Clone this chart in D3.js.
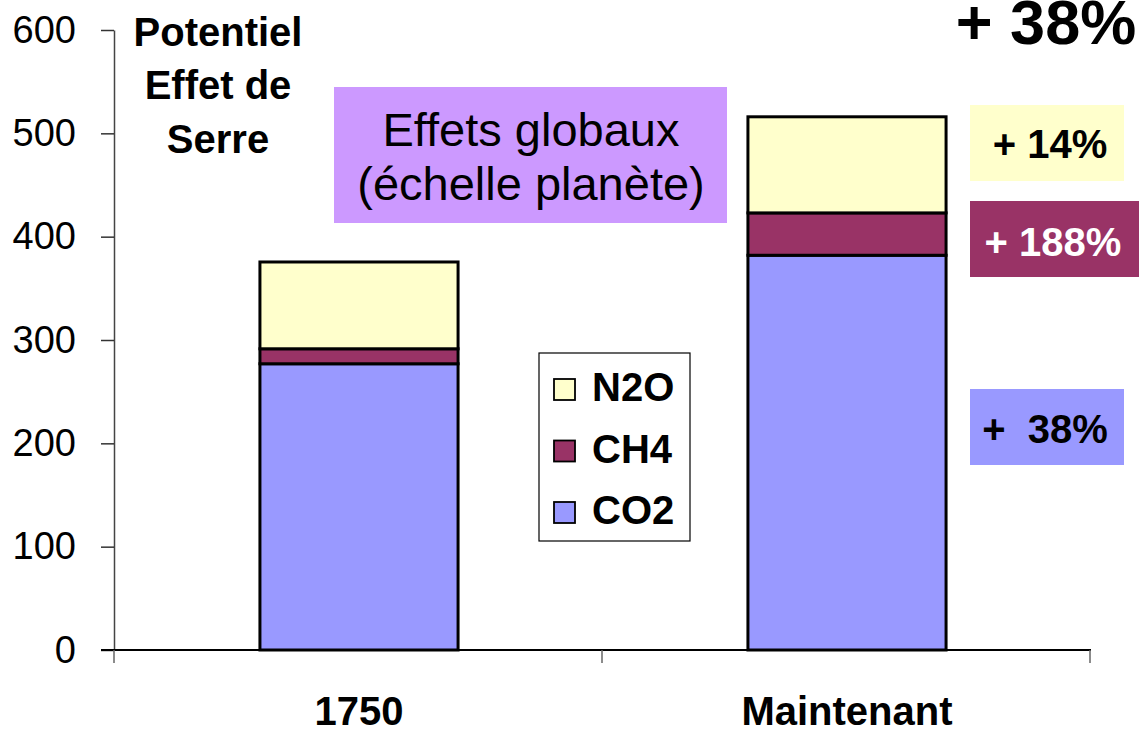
<!DOCTYPE html>
<html>
<head>
<meta charset="utf-8">
<script src="https://cdn.jsdelivr.net/npm/d3@7"></script>
<style>
  html, body { margin: 0; padding: 0; background: #fff; }
  svg { display: block; font-family: "Liberation Sans", Arial, sans-serif; }
</style>
</head>
<body>
<svg id="chart" width="1139" height="731"></svg>
<script>
// Greenhouse-gas forcing potential, 1750 vs today
const categories = ["1750", "Maintenant"];
const gases = ["CO2", "CH4", "N2O"];
const co2Values = [277, 382];
const ch4Values = [14.5, 41];
const n2oValues = [84, 93];
const yTicks = [0, 100, 200, 300, 400, 500, 600];
const gasColors = ["#9999FF", "#993366", "#FFFFCC"];
const legendOrder = ["N2O", "CH4", "CO2"];
const changeLabels = ["+  38%", "+ 188%", "+ 14%"];
const totalChangeLabel = "+ 38%";

const svg = d3.select("#chart");

const x = d3.scaleBand()
  .domain(categories)
  .range([115, 1091])
  .paddingInner(0.594)
  .paddingOuter(0.297);

const y = d3.scaleLinear().domain([0, 600]).range([650, 30]);

const color = d3.scaleOrdinal().domain(gases).range(gasColors);

// stacked series
const rows = categories.map((c, i) => ({
  cat: c, CO2: co2Values[i], CH4: ch4Values[i], N2O: n2oValues[i]
}));
const stacked = d3.stack().keys(gases)(rows);

// bars
svg.append("g").selectAll("g")
  .data(stacked)
  .join("g")
  .attr("fill", d => color(d.key))
  .selectAll("rect")
  .data(d => d)
  .join("rect")
  .attr("x", d => x(d.data.cat))
  .attr("width", x.bandwidth())
  .attr("y", d => y(d[1]))
  .attr("height", d => y(d[0]) - y(d[1]))
  .attr("stroke", "#000")
  .attr("stroke-width", 3);

// y axis
const yAxis = svg.append("g")
  .attr("transform", "translate(114,0)")
  .call(d3.axisLeft(y).tickValues(yTicks).tickSize(13).tickPadding(25).tickSizeOuter(0));
yAxis.select(".domain").attr("stroke", "#444").attr("stroke-width", 1.5);
yAxis.selectAll(".tick line").attr("stroke", "#333").attr("stroke-width", 1.5);
yAxis.selectAll(".tick text")
  .attr("font-size", 38)
  .attr("fill", "#000")
  .attr("font-family", "Liberation Sans, Arial, sans-serif");

// x axis baseline and category separators
const xAxisG = svg.append("g");
const bounds = [115, x.step() + 115, 2 * x.step() + 115];
xAxisG.append("line")
  .attr("x1", 101).attr("x2", 1091)
  .attr("y1", y(0)).attr("y2", y(0))
  .attr("stroke", "#000").attr("stroke-width", 2);
xAxisG.selectAll("line.sep")
  .data(bounds)
  .join("line")
  .attr("class", "sep")
  .attr("x1", d => d - 1).attr("x2", d => d - 1)
  .attr("y1", y(0)).attr("y2", y(0) + 13)
  .attr("stroke", "#666").attr("stroke-width", 1.5);

xAxisG.selectAll("text.cat")
  .data(categories)
  .join("text")
  .attr("class", "cat")
  .attr("x", d => x(d) + x.bandwidth() / 2)
  .attr("y", 725)
  .attr("text-anchor", "middle")
  .attr("font-size", 40)
  .attr("font-weight", "bold")
  .text(d => d);

// y-axis title
const yTitle = ["Potentiel", "Effet de", "Serre"];
svg.append("g").selectAll("text")
  .data(yTitle)
  .join("text")
  .attr("x", 218)
  .attr("y", (d, i) => [46, 99, 153][i])
  .attr("text-anchor", "middle")
  .attr("font-size", 40)
  .attr("font-weight", "bold")
  .text(d => d);

// caption box
svg.append("rect")
  .attr("x", 334).attr("y", 87).attr("width", 393).attr("height", 136)
  .attr("fill", "#CC99FF");
svg.append("g").selectAll("text")
  .data(["Effets globaux", "(échelle planète)"])
  .join("text")
  .attr("x", 531)
  .attr("y", (d, i) => [146, 200][i])
  .attr("text-anchor", "middle")
  .attr("font-size", 47)
  .text(d => d);

// legend
const legend = svg.append("g");
legend.append("rect")
  .attr("x", 539).attr("y", 353).attr("width", 151).attr("height", 188)
  .attr("fill", "#fff").attr("stroke", "#000").attr("stroke-width", 1.2);
const legendRows = legend.selectAll("g.item")
  .data(legendOrder)
  .join("g")
  .attr("class", "item")
  .attr("transform", (d, i) => `translate(554, ${379 + i * 61.5})`);
legendRows.append("rect")
  .attr("width", 21).attr("height", 21)
  .attr("fill", d => color(d))
  .attr("stroke", "#000").attr("stroke-width", 1.8);
legendRows.append("text")
  .attr("x", 38).attr("y", 22)
  .attr("font-size", 40)
  .attr("font-weight", "bold")
  .text(d => d);

// change annotations on the right
const boxes = [
  { key: "N2O", y: 105, w: 154, label: changeLabels[2], textColor: "#000", tx: 1050, ty: 158 },
  { key: "CH4", y: 201, w: 169, label: changeLabels[1], textColor: "#fff", tx: 1053, ty: 256 },
  { key: "CO2", y: 389, w: 154, label: changeLabels[0], textColor: "#000", tx: 1045, ty: 443 }
];
const ann = svg.append("g").selectAll("g").data(boxes).join("g");
ann.append("rect")
  .attr("x", 970).attr("y", d => d.y).attr("width", d => d.w).attr("height", 76)
  .attr("fill", d => color(d.key));
ann.append("text")
  .attr("x", d => d.tx).attr("y", d => d.ty)
  .attr("text-anchor", "middle")
  .attr("font-size", 40)
  .attr("font-weight", "bold")
  .attr("fill", d => d.textColor)
  .style("white-space", "pre")
  .attr("xml:space", "preserve")
  .text(d => d.label);

svg.append("text")
  .attr("x", 1046).attr("y", 44)
  .attr("text-anchor", "middle")
  .attr("font-size", 63)
  .attr("font-weight", "bold")
  .text(totalChangeLabel);
</script>
</body>
</html>
